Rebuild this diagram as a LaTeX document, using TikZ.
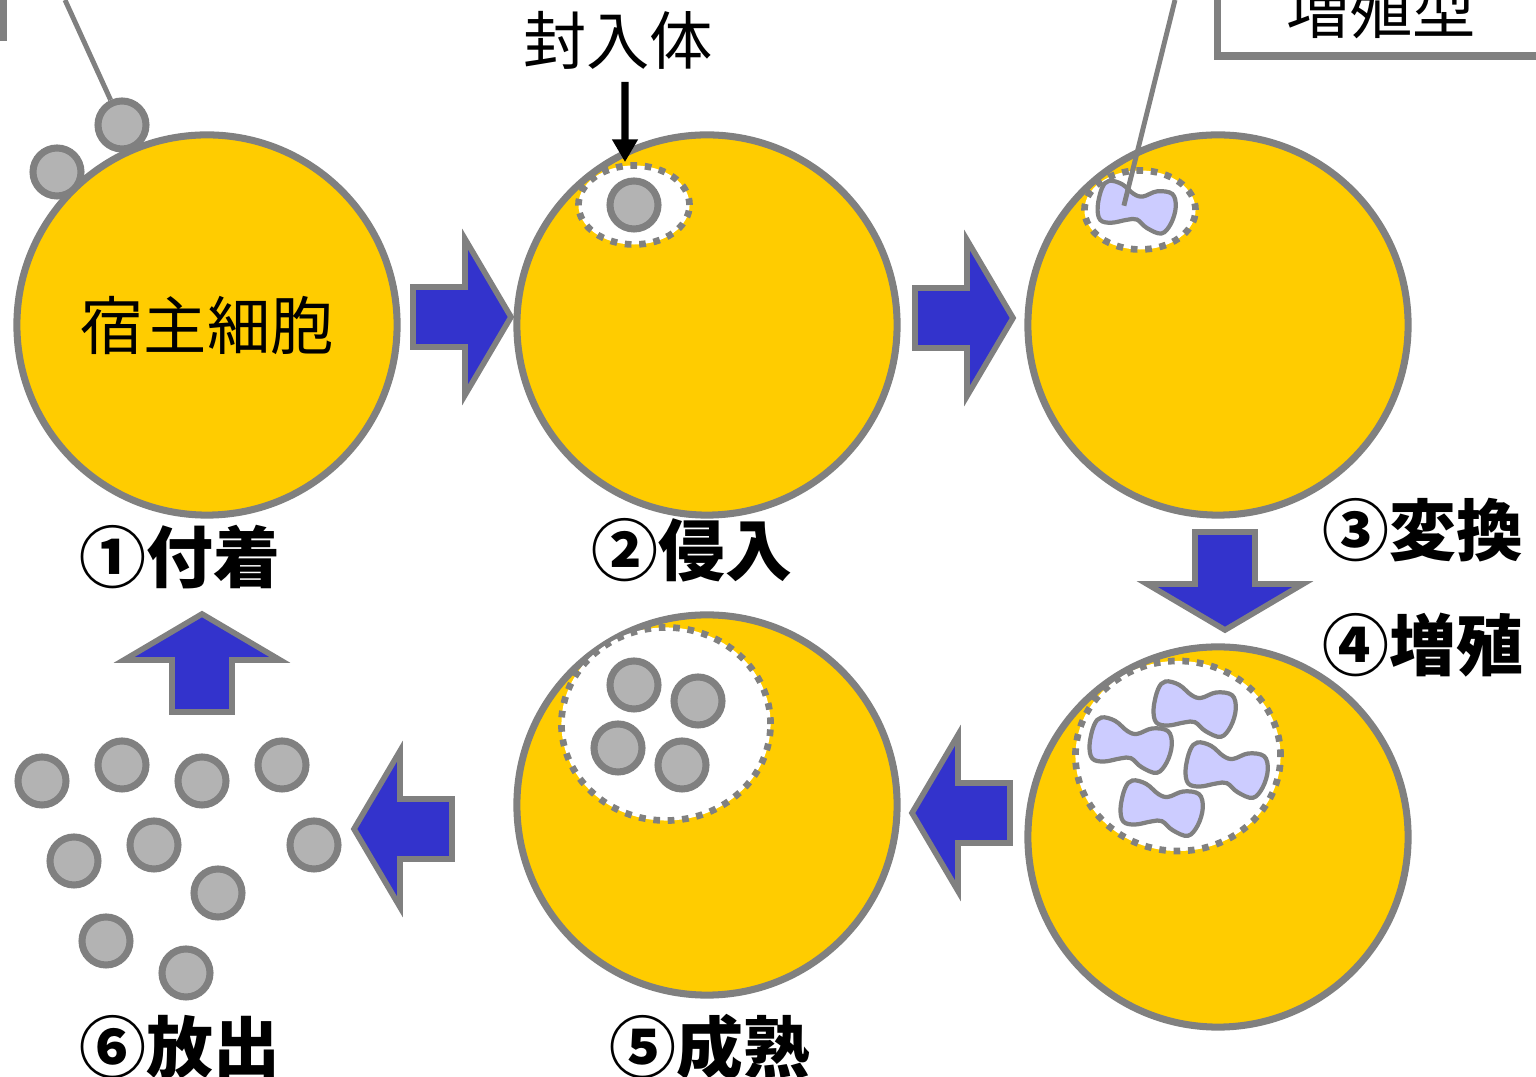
\documentclass[tikz,border=0pt]{standalone}
\usepackage{fontspec}
\newfontfamily\jpfont{Noto Sans CJK JP}
\usetikzlibrary{positioning, arrows.meta, shapes.geometric}

\definecolor{cellyellow}{HTML}{FFCC00}
\definecolor{rimgray}{HTML}{808080}
\definecolor{partgray}{HTML}{B3B3B3}
\definecolor{arrowblue}{HTML}{3333CC}
\definecolor{amoebablue}{HTML}{CCCCFF}

\begin{document}
\begin{tikzpicture}[
  x=0.01cm, y=-0.01cm,
  cell/.style={circle, draw=rimgray, line width=2pt, fill=cellyellow, minimum size=3.8cm,
               inner sep=0pt, font=\jpfont\fontsize{18}{20}\selectfont},
  particle/.style={circle, draw=rimgray, line width=2pt, fill=partgray, minimum size=0.48cm,
                   inner sep=0pt},
  vacuole/.style={ellipse, draw=rimgray, fill=white, line width=1.9pt,
                  dash pattern=on 1.9pt off 2.2pt, inner sep=0pt},
  steplbl/.style={font=\jpfont\bfseries\fontsize{19}{21}\selectfont, inner sep=1pt},
  tag/.style={font=\jpfont\fontsize{18}{20}\selectfont, inner sep=2pt},
  tagbox/.style={draw=rimgray, line width=2pt, minimum width=3.26cm, minimum height=0.92cm,
                 font=\jpfont\fontsize{18}{20}\selectfont},
  leader/.style={draw=rimgray, line width=1.4pt},
  fatarr/.style={draw=rimgray, fill=arrowblue, line width=1.6pt},
  blackarr/.style={-{Triangle[length=6.5pt, width=7pt]}, line width=2pt},
  amoebaline/.style={draw=rimgray, fill=amoebablue, line width=1.2pt},
  fatarrow/.pic={
    \draw[fatarr] (0,-30) -- (52,-30) -- (52,-78) -- (98,0) -- (52,78) -- (52,30) -- (0,30) -- cycle;
  },
  amoeba/.pic={
    \draw[amoebaline] plot[smooth cycle, tension=0.6] coordinates {
      (-40,-14) (-34,-23) (-20,-22) (-6,-14) (4,-13) (18,-21) (34,-21) (40,-8)
      (38,10) (30,22) (14,19) (2,12) (-8,14) (-24,20) (-36,19) (-41,6)};
    \coordinate (-pin) at (-14,0);
  },
]
\useasboundingbox (0,0) rectangle (1536,1077);
\clip (0,0) rectangle (1536,1077);

% ---- host cells ----
\node[cell] (c1) at (207,325) {宿主細胞};
\node[cell] (c2) at (707,325) {};
\node[cell] (c3) at (1218,325) {};
\node[cell] (c4) at (1218,837) {};
\node[cell] (c5) at (707,805) {};

% ---- inclusion vacuoles ----
\node[vacuole, minimum width=1.11cm, minimum height=0.79cm] (inc2) at (634,205) {};
\node[vacuole, minimum width=1.11cm, minimum height=0.79cm] (inc3) at (1140,210) {};
\node[vacuole, minimum width=2.05cm, minimum height=1.90cm] (inc4) at (1178,756) {};
\node[vacuole, minimum width=2.09cm, minimum height=1.93cm] (inc5) at (666,724) {};

% ---- elementary bodies ----
\node[particle] (p1) at (122,125) {};
\node[particle] (p2) at (57,172) {};
\node[particle] (e2) at (inc2) {};
\foreach \x/\y [count=\i] in {634/685, 698/701, 618/748, 682/765}
  \node[particle] (m\i) at (\x,\y) {};
\foreach \x/\y [count=\i] in {42/781, 122/765, 202/781, 282/765, 74/861,
                              154/845, 314/845, 218/893, 106/941, 186/973}
  \node[particle] (r\i) at (\x,\y) {};

% ---- reticulate bodies ----
\pic[rotate=-10, scale=0.95] (am3) at (1137,208) {amoeba};
\pic[rotate=-10] (am4a) at (1195,710) {amoeba};
\pic[rotate=-10] (am4b) at (1131,746) {amoeba};
\pic[rotate=-10] (am4c) at (1227,771) {amoeba};
\pic[rotate=-10] (am4d) at (1162,809) {amoeba};

% ---- cycle arrows ----
\pic at (413,317) {fatarrow};
\pic at (915,318) {fatarrow};
\pic[rotate=-90] at (1225,532) {fatarrow};
\pic[rotate=180] at (1010,813) {fatarrow};
\pic[rotate=180] at (452,829) {fatarrow};
\pic[rotate=90] at (202,712) {fatarrow};

% ---- step labels ----
\node[steplbl] (s1) at (180,557) {①付着};
\node[steplbl] (s2) at (692,550) {②侵入};
\node[steplbl] (s3) at (1423,530) {③変換};
\node[steplbl] (s4) at (1423,645) {④増殖};
\node[steplbl] (s5) at (710,1047) {⑤成熟};
\node[steplbl] (s6) at (180,1047) {⑥放出};

% ---- callouts ----
\node[tag] (lblinc) at (618,40) {封入体};
\draw[blackarr] ([xshift=0.07cm, yshift=-0.05cm]lblinc.south) -- ([xshift=-0.09cm]inc2.north);

\node[tagbox] (boxl) at (-160,-9) {};
\node[tagbox] (boxr) at (1381,10) {増殖型};

\coordinate (top1) at (65,0);
\coordinate (top3) at (1175,0);
\draw[leader] (top1) -- (p1);
\draw[leader] (top3) -- (am3-pin);

\end{tikzpicture}
\end{document}
